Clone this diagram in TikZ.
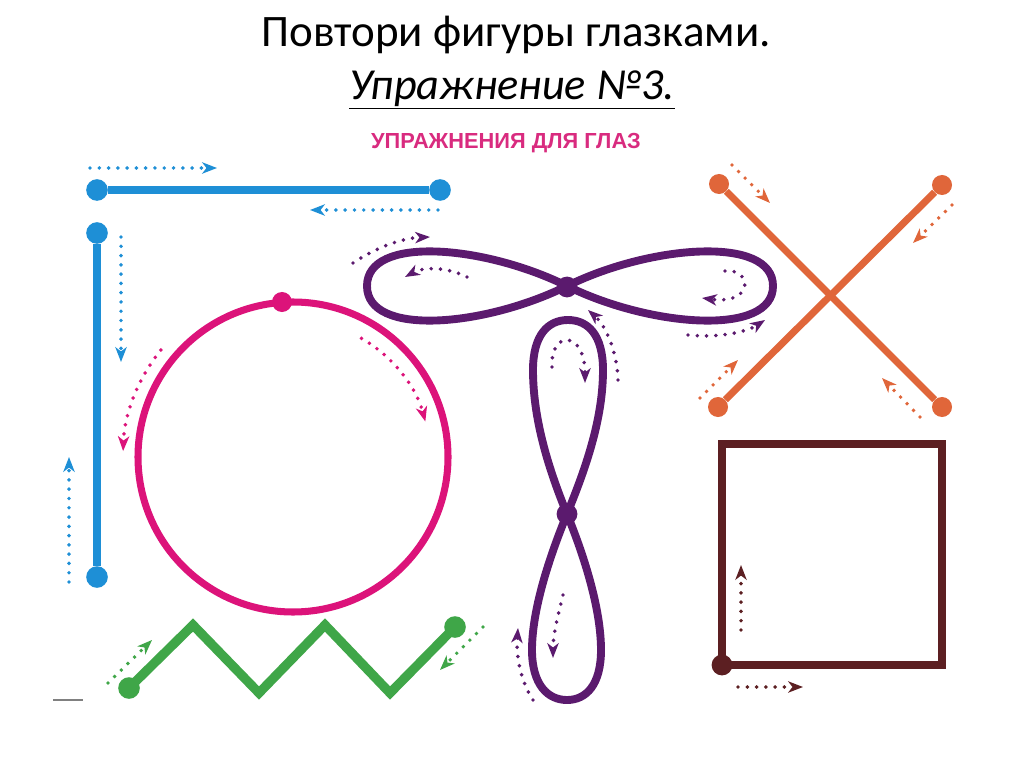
\documentclass[tikz,border=0pt]{standalone}
\usepackage{fontspec}
\setmainfont{Carlito}
\newfontfamily\headfont{Liberation Sans}
\usepackage{tikz}
\usetikzlibrary{arrows.meta}
\usepackage{xcolor}
\definecolor{eyeblue}{HTML}{1E8FD6}
\definecolor{eyepink}{HTML}{DC137A}
\definecolor{eyehead}{HTML}{D92B7F}
\definecolor{eyepurple}{HTML}{5B1A6E}
\definecolor{eyeorange}{HTML}{E0663A}
\definecolor{eyebrown}{HTML}{5C1F22}
\definecolor{eyegreen}{HTML}{3FA648}

\begin{document}
\begin{tikzpicture}[x=0.025cm, y=0.025cm,
    spot/.style={circle, fill=#1, inner sep=0pt, minimum size=0.54cm},
    trace/.style={line width=5.2pt, #1, line join=miter},
    guide/.style={line width=2.8pt, #1, dash pattern=on 0pt off 6.6pt, line cap=round,
                  -{Stealth[length=10.5pt, width=8pt, inset=3pt]}},
  ]
    \fill[white] (0,0) rectangle (1024,-767);
    \useasboundingbox (0,0) rectangle (1024,-767);

    % titles
    \node (title) at (516,-35) {\fontsize{32}{38}\selectfont Повтори фигуры глазками.};
    \node (sub) at (512,-90) {\fontsize{31.5}{36}\selectfont\itshape\underline{Упражнение №3.}};
    \node[text=eyehead, font=\headfont\bfseries\fontsize{15.5}{18}\selectfont] (head) at (506,-143)
      {УПРАЖНЕНИЯ ДЛЯ ГЛАЗ};

    % blue corner
    \node[spot=eyeblue] (b1) at (97,-190) {};
    \node[spot=eyeblue] (b2) at (440,-190) {};
    \node[spot=eyeblue] (b3) at (97,-233) {};
    \node[spot=eyeblue] (b4) at (97,-577) {};
    \draw[trace=eyeblue] (b1) -- (b2);
    \draw[trace=eyeblue] (b3) -- (b4);
    \draw[guide=eyeblue] (90,-168) -- (217,-168);
    \draw[guide=eyeblue] (438,-210) -- (310,-210);
    \draw[guide=eyeblue] (121,-237) -- (121,-362);
    \draw[guide=eyeblue] (69,-582) -- (69,-457);

    % pink circle
    \draw[trace=eyepink, line width=5pt] (293,-457) circle (155);
    \node[spot=eyepink, minimum size=0.5cm] (p1) at (282,-302) {};
    \draw[guide=eyepink] (293,-457) ++(141:170) arc[start angle=141, end angle=178, radius=170];
    \draw[guide=eyepink] (293,-457) ++(60:137) arc[start angle=60, end angle=15, radius=137];

    % purple eights
    \draw[trace=eyepurple, line width=5.6pt] (567,-286)
      .. controls (650,-245) and (773,-235) .. (773,-286)
      .. controls (773,-337) and (650,-327) .. (567,-286)
      .. controls (484,-245) and (367,-235) .. (367,-286)
      .. controls (367,-337) and (484,-327) .. (567,-286);
    \draw[trace=eyepurple, line width=5.6pt] (567,-514)
      .. controls (585,-470) and (603,-420) .. (603,-370)
      .. controls (603,-335) and (588,-320) .. (568,-320)
      .. controls (548,-320) and (533,-335) .. (533,-370)
      .. controls (533,-420) and (549,-470) .. (567,-514)
      .. controls (585,-558) and (601,-610) .. (601,-650)
      .. controls (601,-685) and (586,-700) .. (567,-700)
      .. controls (548,-700) and (532,-685) .. (532,-650)
      .. controls (532,-610) and (549,-558) .. (567,-514);
    \node[spot=eyepurple, minimum size=0.52cm] (hx) at (567,-287) {};
    \node[spot=eyepurple, minimum size=0.52cm] (vx) at (567,-514) {};
    \draw[guide=eyepurple] (353,-263) .. controls (380,-245) and (405,-238) .. (430,-237);
    \draw[guide=eyepurple] (467,-277) .. controls (450,-268) and (425,-266) .. (405,-277);
    \draw[guide=eyepurple] (725,-271) .. controls (752,-268) and (755,-305) .. (702,-298);
    \draw[guide=eyepurple] (688,-335) .. controls (715,-338) and (745,-333) .. (765,-320);
    \draw[guide=eyepurple] (552,-367) .. controls (550,-330) and (585,-330) .. (585,-383);
    \draw[guide=eyepurple] (618,-380) .. controls (617,-350) and (605,-325) .. (588,-310);
    \draw[guide=eyepurple] (563,-595) .. controls (558,-615) and (553,-635) .. (553,-658);
    \draw[guide=eyepurple] (533,-700) .. controls (520,-680) and (516,-655) .. (518,-628);

    % orange cross
    \node[spot=eyeorange, minimum size=0.5cm] (o1) at (719,-184) {};
    \node[spot=eyeorange, minimum size=0.5cm] (o2) at (942,-185) {};
    \node[spot=eyeorange, minimum size=0.5cm] (o3) at (718,-407) {};
    \node[spot=eyeorange, minimum size=0.5cm] (o4) at (942,-407) {};
    \draw[trace=eyeorange, line width=5pt] (o1) -- (o4);
    \draw[trace=eyeorange, line width=5pt] (o2) -- (o3);
    \draw[guide=eyeorange] (732,-165) -- (770,-203);
    \draw[guide=eyeorange] (952,-205) -- (913,-243);
    \draw[guide=eyeorange] (700,-398) -- (738,-360);
    \draw[guide=eyeorange] (920,-417) -- (882,-378);

    % brown square
    \draw[trace=eyebrown, line width=5.2pt] (722,-665) rectangle (942,-444);
    \node[spot=eyebrown, minimum size=0.52cm] (s1) at (722,-665) {};
    \draw[guide=eyebrown] (741,-630) -- (741,-565);
    \draw[guide=eyebrown] (738,-687) -- (803,-687);

    % green zigzag
    \node[spot=eyegreen] (g1) at (129,-688) {};
    \node[spot=eyegreen] (g2) at (455,-627) {};
    \draw[trace=eyegreen, line width=6.6pt] (g1.center) -- (193,-625) -- (259,-693)
      -- (325,-625) -- (390,-693) -- (g2.center);
    \draw[guide=eyegreen] (108,-683) -- (152,-640);
    \draw[guide=eyegreen] (483,-627) -- (440,-670);

    \draw[gray, line width=1pt] (53,-700) -- (83,-700);
  \end{tikzpicture}
\end{document}
